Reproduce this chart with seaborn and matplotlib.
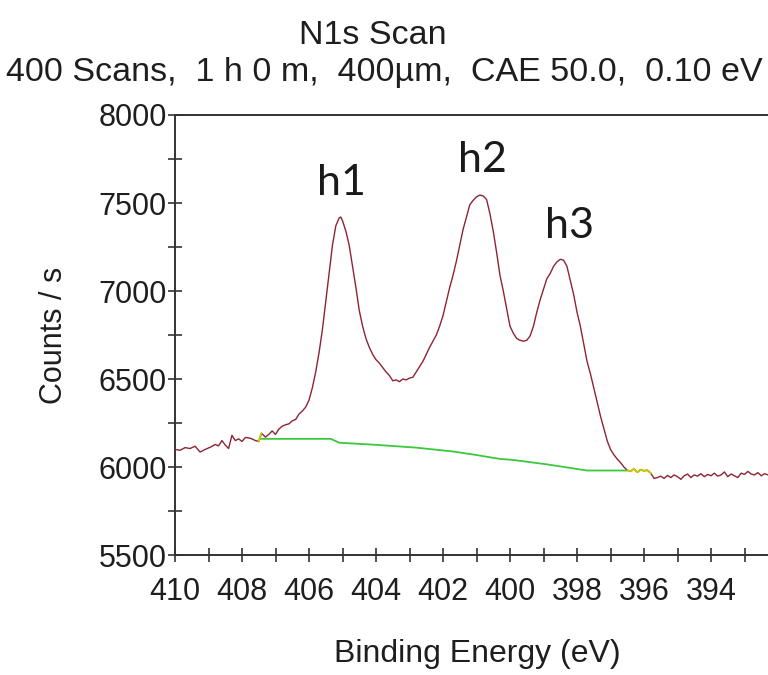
import matplotlib
matplotlib.use("Agg")
import matplotlib.pyplot as plt
from matplotlib.ticker import MultipleLocator
import seaborn as sns
import pandas as pd

# ---- data ----
energy = [410.0, 409.85, 409.7, 409.55, 409.4, 409.25, 409.1, 408.95, 408.8, 408.7,
          408.6, 408.5, 408.4, 408.3, 408.2, 408.1, 408.0, 407.9, 407.8, 407.7,
          407.6, 407.5, 407.42, 407.3, 407.2, 407.1, 407.0, 406.9, 406.8, 406.7,
          406.6, 406.5, 406.4, 406.3, 406.2, 406.1, 406.0, 405.9, 405.8, 405.7,
          405.6, 405.5, 405.4, 405.3, 405.2, 405.1, 405.05, 405.0, 404.9, 404.8,
          404.7, 404.6, 404.5, 404.4, 404.3, 404.2, 404.1, 404.0, 403.9, 403.8,
          403.7, 403.6, 403.5, 403.4, 403.3, 403.2, 403.1, 403.0, 402.9, 402.8,
          402.7, 402.6, 402.5, 402.4, 402.3, 402.2, 402.1, 402.0, 401.9, 401.8,
          401.7, 401.6, 401.5, 401.4, 401.3, 401.2, 401.1, 401.0, 400.9, 400.8,
          400.7, 400.6, 400.5, 400.4, 400.3, 400.2, 400.1, 400.0, 399.9, 399.8,
          399.7, 399.6, 399.5, 399.4, 399.3, 399.2, 399.1, 399.0, 398.9, 398.8,
          398.7, 398.6, 398.5, 398.4, 398.3, 398.2, 398.1, 398.0, 397.9, 397.8,
          397.7, 397.6, 397.5, 397.4, 397.3, 397.2, 397.1, 397.0, 396.9, 396.8,
          396.7, 396.6, 396.5, 396.4, 396.3, 396.2, 396.1, 396.0, 395.9, 395.8,
          395.7, 395.6, 395.5, 395.4, 395.3, 395.2, 395.1, 395.0, 394.9, 394.8,
          394.7, 394.6, 394.5, 394.4, 394.3, 394.2, 394.1, 394.0, 393.9, 393.8,
          393.7, 393.6, 393.5, 393.4, 393.3, 393.2, 393.1, 393.0, 392.9, 392.8,
          392.7, 392.6, 392.5, 392.4, 392.3, 392.2, 392.1, 392.0, 391.9]
counts = [6100, 6095, 6110, 6105, 6118, 6085, 6100, 6112, 6128, 6120,
          6150, 6125, 6105, 6180, 6150, 6160, 6145, 6168, 6165, 6160,
          6150, 6145, 6192, 6170, 6185, 6205, 6185, 6215, 6232, 6240,
          6245, 6262, 6270, 6300, 6318, 6340, 6380, 6450, 6540, 6650,
          6780, 6940, 7100, 7260, 7370, 7415, 7420, 7400, 7340, 7260,
          7140, 7020, 6890, 6800, 6730, 6680, 6640, 6610, 6590, 6565,
          6540, 6520, 6490, 6495, 6485, 6500, 6495, 6505, 6510, 6540,
          6570, 6600, 6640, 6680, 6715, 6750, 6800, 6860, 6940, 7020,
          7090, 7170, 7260, 7350, 7420, 7490, 7515, 7535, 7545, 7540,
          7520, 7440, 7340, 7220, 7090, 7000, 6900, 6800, 6760, 6730,
          6720, 6715, 6720, 6745, 6800, 6880, 6950, 7010, 7070, 7100,
          7140, 7165, 7180, 7175, 7140, 7060, 6980, 6880, 6800, 6700,
          6600, 6530, 6450, 6370, 6290, 6220, 6150, 6100, 6070, 6045,
          6025, 6000, 5982, 5975, 5990, 5970, 5985, 5978, 5982, 5965,
          5935, 5940, 5948, 5935, 5952, 5940, 5955, 5945, 5930, 5950,
          5960, 5940, 5955, 5948, 5962, 5945, 5958, 5950, 5965, 5948,
          5955, 5972, 5945, 5960, 5950, 5940, 5965, 5958, 5975, 5960,
          5955, 5968, 5950, 5962, 5955, 5948, 5960, 5952, 5958]

# background line (green)
bg_energy = [407.45, 405.35, 405.1, 404.0, 402.8, 401.7, 401.0, 400.3, 399.9, 398.9, 397.7, 396.5]
bg_counts = [6160, 6160, 6138, 6126, 6110, 6088, 6068, 6046, 6040, 6015, 5980, 5980]

# region markers (yellow)
marker_ranges = [(407.5, 407.38), (396.52, 395.8)]

peak_labels = ["h1", "h2", "h3"]
peak_label_x = [405.04, 400.81, 398.21]
peak_label_y = [7612, 7743, 7372]

y_ticks = [5500, 6000, 6500, 7000, 7500, 8000]
x_tick_labels = [410, 408, 406, 404, 402, 400, 398, 396, 394]

title_line1 = "N1s Scan"
title_line2 = "400 Scans,  1 h 0 m,  400\u00b5m,  CAE 50.0,  0.10 eV"

# ---- plotting ----
sns.set_theme(style="white")
plt.rcParams["font.family"] = ["Liberation Sans", "DejaVu Sans"]

W, H = 768, 675
fig = plt.figure(figsize=(W / 100, H / 100), dpi=100)
fig.patch.set_facecolor("white")

ax_left, ax_right, ax_top, ax_bottom = 175, 780, 115, 555
ax = fig.add_axes([ax_left / W, 1 - ax_bottom / H, (ax_right - ax_left) / W, (ax_bottom - ax_top) / H])
ax.set_facecolor("white")

df = pd.DataFrame({"Binding Energy (eV)": energy, "Counts / s": counts})
bg = pd.DataFrame({"Binding Energy (eV)": bg_energy, "Counts / s": bg_counts})

sns.lineplot(data=df, x="Binding Energy (eV)", y="Counts / s", ax=ax,
             color="#8E2433", linewidth=1.0, zorder=3)
sns.lineplot(data=bg, x="Binding Energy (eV)", y="Counts / s", ax=ax,
             color="#3CC83C", linewidth=1.3, zorder=2)
for hi, lo in marker_ranges:
    seg = df[(df["Binding Energy (eV)"] <= hi) & (df["Binding Energy (eV)"] >= lo)]
    sns.lineplot(data=seg, x="Binding Energy (eV)", y="Counts / s", ax=ax,
                 color="#C8C800", linewidth=1.4, zorder=4)

x_right = 410 - (ax_right - ax_left) / 33.5
ax.set_xlim(410, x_right)
ax.set_ylim(5500, 8000)

ax.set_yticks(y_ticks)
ax.set_yticklabels([str(v) for v in y_ticks])
ax.yaxis.set_minor_locator(MultipleLocator(250))
ax.set_xticks(x_tick_labels)
ax.set_xticklabels([str(v) for v in x_tick_labels])
ax.xaxis.set_minor_locator(MultipleLocator(1))

txt_color = "#1e1e1e"
ax.tick_params(axis="both", which="both", direction="inout", length=10, width=1.2,
               color="#333333", labelcolor=txt_color, labelsize=22)
ax.tick_params(axis="x", which="both", bottom=True, top=False, pad=11)
ax.tick_params(axis="y", which="both", left=True, right=False, pad=1)

for side in ["left", "bottom", "top"]:
    ax.spines[side].set_visible(True)
    ax.spines[side].set_color("#333333")
    ax.spines[side].set_linewidth(1.4)
ax.spines["right"].set_visible(False)

ax.set_xlabel("Binding Energy (eV)", fontsize=23, color=txt_color)
ax.set_ylabel("Counts / s", fontsize=22, color=txt_color)
ax.xaxis.set_label_coords(0.5, -0.19)
ax.yaxis.set_label_coords(-0.175, 0.5)

for lab, lx, ly in zip(peak_labels, peak_label_x, peak_label_y):
    ax.text(lx, ly, lab, ha="center", va="center", fontsize=31, color="#1a1a1a",
            family=["Lato", "DejaVu Sans"])

fig.text(373 / W, 1 - 35 / H, title_line1, ha="center", va="center", fontsize=24.5, color=txt_color)
fig.text(384 / W, 1 - 72 / H, title_line2, ha="center", va="center", fontsize=24.5, color=txt_color)

fig.savefig("out.png", dpi=100, facecolor="white")
